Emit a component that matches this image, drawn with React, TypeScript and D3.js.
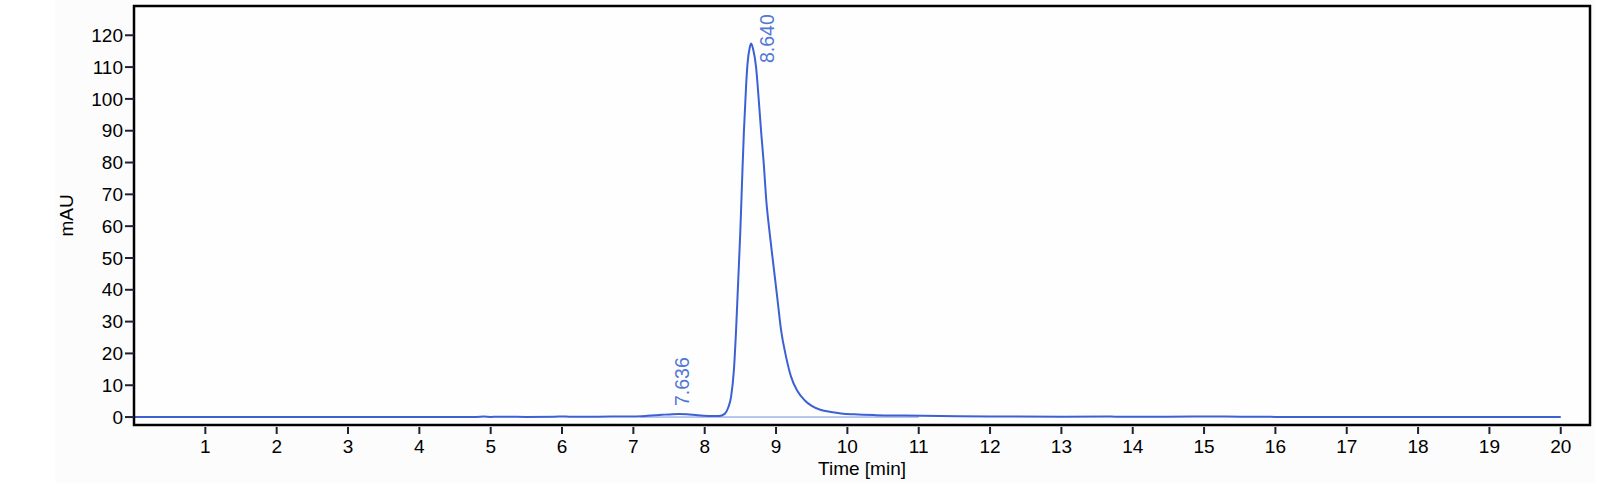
import React from 'react';
import { scaleLinear, line, curveMonotoneX } from 'd3';

// chromatogram trace
const times = [0, 1, 2, 3, 4, 4.8, 4.9, 5.0, 5.1, 5.5, 5.9, 6.0, 6.1, 6.5, 7.0, 7.2, 7.4, 7.55, 7.64, 7.75, 7.9, 8.05, 8.2,
  8.28, 8.33, 8.37, 8.41, 8.44, 8.47, 8.5, 8.53, 8.55, 8.58, 8.6, 8.63, 8.652, 8.68, 8.72, 8.76, 8.79, 8.83, 8.86, 8.91,
  8.96, 9.02, 9.07, 9.14, 9.21, 9.3, 9.4, 9.5, 9.63, 9.77, 9.91, 10.1, 10.4, 10.8, 11.3, 12, 13, 13.7, 13.8, 14.5, 15.2,
  16, 17, 18, 19, 20];
const mAU = [0, 0, 0, 0, 0.02, 0.05, 0.15, 0.05, 0.1, 0.05, 0.1, 0.2, 0.1, 0.12, 0.2, 0.4, 0.7, 0.9, 0.95, 0.85, 0.55, 0.35, 0.3,
  1.0, 3.0, 6.4, 15, 27.4, 43, 58.8, 78, 90, 104, 111, 116, 117.4, 115.5, 110, 99, 90, 79, 69, 58,
  48.4, 37, 27.4, 19, 12.7, 8.2, 5.3, 3.5, 2.2, 1.6, 1.15, 0.85, 0.6, 0.45, 0.32, 0.2, 0.1, 0.15, 0.08, 0.12, 0.15,
  0.05, 0.03, 0.02, 0.02, 0];

const peakTimes = [7.636, 8.64];
const peakHeights = [0.95, 117.4];
const peakLabels = ['7.636', '8.640'];

const baselineTimes = [7.1, 11];

const xTicks = [1, 2, 3, 4, 5, 6, 7, 8, 9, 10, 11, 12, 13, 14, 15, 16, 17, 18, 19, 20];
const yTicks = [0, 10, 20, 30, 40, 50, 60, 70, 80, 90, 100, 110, 120];

const width = 1608;
const height = 491;
const left = 134;
const right = 1590;
const top = 6;
const bottom = 425;

const font = '"Liberation Sans", Arial, sans-serif';
const traceColor = '#3d60d2';
const labelColor = '#5378d6';

const App: React.FC = () => {
  const x = scaleLinear([0, 20.41], [left, right]);
  const y = scaleLinear([-2.5, 129.2], [bottom, top]);

  const trace = line<number>()
    .x((_, i) => x(times[i]))
    .y(d => y(d))
    .curve(curveMonotoneX);

  const labelLen = 49;

  return (
    <svg width={width} height={height} style={{ position: 'absolute', left: 0, top: 0 }} fontFamily={font}>
      <rect x={55} y={0} width={1540} height={483} fill="#fcfcfc" />
      <rect x={left} y={top} width={right - left} height={bottom - top} fill="#fefefe" />

      {/* integration baseline */}
      <line x1={x(baselineTimes[0])} x2={x(baselineTimes[1])} y1={y(0)} y2={y(0)} stroke="#6f8ddc" strokeWidth={1} />

      <path d={trace(mAU) || ''} fill="none" stroke={traceColor} strokeWidth={2} strokeLinejoin="round" />

      {peakTimes.map((t, i) => {
        const apex = y(peakHeights[i]);
        const shifted = apex - 8 - labelLen < top + 8;
        const sy = shifted ? top + 8 + labelLen : apex - 8;
        const sx = x(t) + (shifted ? 17 : 3);
        return (
          <text key={i} transform={`translate(${sx},${sy}) rotate(-90)`} dy="0.35em" fontSize={19.5} fill={labelColor}>
            {peakLabels[i]}
          </text>
        );
      })}

      <rect x={left} y={top} width={right - left} height={bottom - top} fill="none" stroke="#000" strokeWidth={2.5} />

      {yTicks.map(v => (
        <g key={v}>
          <line x1={left - 9} x2={left} y1={y(v)} y2={y(v)} stroke="#1c2333" strokeWidth={2} />
          <text x={left - 11} y={y(v)} dy="0.35em" textAnchor="end" fontSize={19} fill="#000">{v}</text>
        </g>
      ))}

      {xTicks.map(v => (
        <g key={v}>
          <line x1={x(v)} x2={x(v)} y1={bottom + 2} y2={bottom + 9} stroke="#1c2333" strokeWidth={2} />
          <text x={x(v)} y={453} textAnchor="middle" fontSize={19} fill="#000">{v}</text>
        </g>
      ))}

      <text x={(left + right) / 2} y={475} textAnchor="middle" fontSize={19} fill="#000">Time [min]</text>
      <text transform={`translate(73,${(top + bottom) / 2}) rotate(-90)`} textAnchor="middle" fontSize={19} fill="#000">mAU</text>
    </svg>
  );
};

export default App;
